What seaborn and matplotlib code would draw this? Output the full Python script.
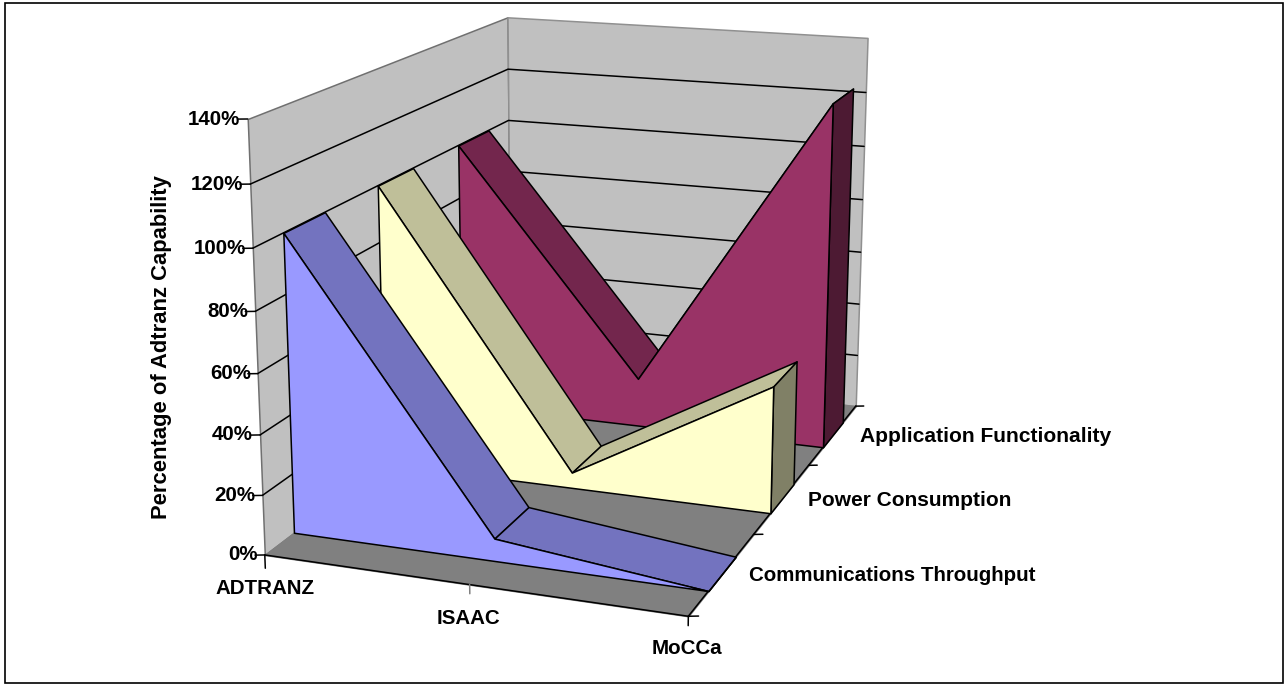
import matplotlib
matplotlib.use('Agg')
import numpy as np
import matplotlib.pyplot as plt
from matplotlib.patches import Rectangle
from mpl_toolkits.mplot3d import proj3d
from mpl_toolkits.mplot3d.art3d import Poly3DCollection
import seaborn as sns

# Chart values
categories = ['ADTRANZ', 'ISAAC', 'MoCCa']
series_names = ['Communications Throughput', 'Power Consumption', 'Application Functionality']
adtranz_series = [1.00, 0.075, 0.0]
power_series = [1.00, 0.055, 0.44]
application_series = [1.00, 0.18, 1.25]
percent_ticks = [0.0, 0.2, 0.4, 0.6, 0.8, 1.0, 1.2, 1.4]
percent_labels = ['0%', '20%', '40%', '60%', '80%', '100%', '120%', '140%']

sns.set_theme(style='white')
plt.rcParams['font.family'] = ['Liberation Sans', 'DejaVu Sans']

front_colors = sns.color_palette(['#9999FF', '#FFFFCC', '#993366'])
WALL = '#C0C0C0'
FLOOR = '#808080'
EDGE = 'black'
LW = 1.1
GAP = 0.29

W, H = 1285, 684
fig = plt.figure(figsize=(W / 100, H / 100), dpi=100, facecolor='white')
side = 430
cx, cy = 586.5, 279
ax = fig.add_axes([(cx - 0.5135 * side) / W, (H - cy - 0.5135 * side) / H, side / W, side / H],
                  projection='3d')
ax.set_axis_off()
ax.patch.set_alpha(0)
ax.computed_zorder = False
ax.set_proj_type('persp', focal_length=1.0)
ax.view_init(elev=15.3, azim=-70)
ax.set_box_aspect((1.781, 2.655, 1.78), zoom=1.92)
ax.set_xlim(0, 2, view_margin=0)
ax.set_ylim(0, 3, view_margin=0)
ax.set_zlim(0, 1.4, view_margin=0)


def face(points, color, edge=EDGE, lw=LW, z=1):
    poly = Poly3DCollection([points], facecolors=[color], edgecolors=[edge], linewidths=lw, zorder=z)
    ax.add_collection3d(poly, autolim=False)
    poly.set_clip_on(False)


def line(xs, ys, zs, color=EDGE, lw=LW, z=3):
    ax.plot(xs, ys, zs, color=color, lw=lw, zorder=z, clip_on=False)


def label(x, y, z, text, ha='center', size=14.8):
    # 3D anchor, flat text
    px, py, _ = proj3d.proj_transform(x, y, z, ax.get_proj())
    ax.text2D(px, py, text, transform=ax.transData, ha=ha, va='center', fontsize=size,
              fontweight='bold', color='black', zorder=40)


# Walls and floor
face([(0, 0, 0), (0, 3, 0), (0, 3, 1.4), (0, 0, 1.4)], WALL, edge='#707070', z=1)
face([(0, 3, 0), (2, 3, 0), (2, 3, 1.4), (0, 3, 1.4)], WALL, edge='#909090', z=1)
for v in percent_ticks[1:-1]:
    line([0, 0, 2], [0, 3, 3], [v, v, v], z=2)
face([(0, 0, 0), (2, 0, 0), (2, 3, 0), (0, 3, 0)], FLOOR, edge=FLOOR, z=3)
line([0, 2, 2], [0, 0, 3], [0, 0, 0], z=4)

# Tick marks, kept flat on screen
for v in percent_ticks:
    line([0, -0.04], [0, -0.017], [v, v], z=4)
for i in range(4):
    line([2, 2.04], [i, i + 0.017], [0, 0], z=4)
line([0, 0], [0, 0], [0, -0.045], z=4)
line([2, 2], [0, 0], [0, -0.03], z=4)
line([1, 1], [0, 0], [0, -0.03], color='#808080', z=4)

# Area series, back to front
all_series = [adtranz_series, power_series, application_series]
xs = [0, 1, 2]
for i in [2, 1, 0]:
    vals = all_series[i]
    y0, y1 = i + GAP, i + 1 - GAP
    base = np.array(front_colors[i])
    z = 10 + (2 - i) * 5
    for j in [0, 1]:
        face([(xs[j], y0, vals[j]), (xs[j], y1, vals[j]), (xs[j + 1], y1, vals[j + 1]), (xs[j + 1], y0, vals[j + 1])],
             tuple(base * 0.75), z=z)
    face([(2, y0, 0), (2, y1, 0), (2, y1, vals[2]), (2, y0, vals[2])], tuple(base * 0.5), z=z + 1)
    face([(0, y0, 0), (0, y0, vals[0]), (1, y0, vals[1]), (2, y0, vals[2]), (2, y0, 0)], tuple(base), z=z + 2)

# Labels
for v, lab in zip(percent_ticks, percent_labels):
    label(-0.035, 0, v - 0.003, lab, ha='right')
label(-0.005, 0, -0.116, categories[0])
label(0.99, 0, -0.113, categories[1])
label(1.995, 0, -0.103, categories[2])
for i, name in enumerate(series_names):
    label([2.12, 2.13, 2.145][i], i + 0.5, 0.005, name, ha='left', size=[14.8, 15, 15.1][i])

fig.text(161 / W, 1 - 347 / H, 'Percentage of Adtranz Capability', rotation=90, ha='center', va='center',
         fontsize=15.8, fontweight='bold', color='black')
fig.add_artist(Rectangle((5 / W, 1 / H), 1278 / W, 680 / H, transform=fig.transFigure, fill=False,
                         edgecolor='black', lw=1.2))

fig.savefig('out.png', dpi=100)
